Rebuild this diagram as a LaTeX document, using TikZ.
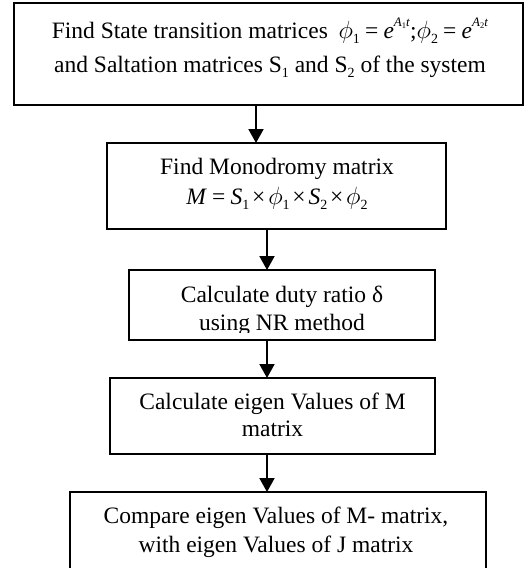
\documentclass[tikz,border=0pt]{standalone}
\usepackage{fontspec}
\setmainfont{Liberation Serif}
\usetikzlibrary{arrows.meta}
\newcommand{\mi}[1]{\textit{#1}}
\newcommand{\ph}{$\phi$}
\newcommand{\lo}[1]{\raisebox{-5pt}{\fontsize{14}{14}\selectfont #1}}
\newcommand{\hi}[1]{\raisebox{12pt}{\fontsize{13}{13}\selectfont #1}}
\newcommand{\tlo}[1]{\raisebox{-2.5pt}{\fontsize{8.5}{8.5}\selectfont #1}}
\newcommand{\eq}{\hspace{0.22em}=\hspace{0.22em}}
\newcommand{\tm}{\hspace{0.12em}×\hspace{0.12em}}
\begin{document}
\begin{tikzpicture}[x=1pt,y=1pt,
  box/.style={draw, line width=2pt, inner sep=0pt, outer sep=0pt},
  txt/.style={font=\fontsize{23.5}{28}\selectfont, align=center, inner sep=0pt},
  arr/.style={line width=2pt, -{Triangle[width=15pt,length=14pt]}}]
\useasboundingbox (0,0) rectangle (525,-568);
\clip (0,0) rectangle (525,-568);
% boxes
\node[box, minimum width=509pt, minimum height=102pt] (b1) at (268.5,-54) {};
\node[box, minimum width=339pt, minimum height=86pt] (b2) at (276.5,-186) {};
\node[box, minimum width=306pt, minimum height=70pt] (b3) at (282,-305) {};
\node[box, minimum width=325pt, minimum height=76pt] (b4) at (272.5,-416) {};
\node[box, minimum width=416pt, minimum height=79pt] (b5) at (278,-531.5) {};
% texts
\node[txt] (t1) at (270,-47.5) {Find State transition matrices\hspace{0.45em}\ph\lo{1}\eq\mi{e}\hi{\mi{A}\tlo{1}\mi{t}};\ph\lo{2}\eq\mi{e}\hi{\mi{A}\tlo{2}\mi{t}}\\[6pt]
  and Saltation matrices S\lo{1} and S\lo{2} of the system};
\node[txt] (t2) at (277,-184.3) {Find Monodromy matrix\\[2pt]
  \mi{M}\eq\mi{S}\lo{1}\tm\ph\lo{1}\tm\mi{S}\lo{2}\tm\ph\lo{2}};
\begin{scope}
  \clip (129,-270) rectangle (435,-332.5);
  \node[txt] (t3) at (282,-311.3) {Calculate duty ratio δ\\using NR method};
\end{scope}
\node[txt] (t4) at (272.5,-415.3) {Calculate eigen Values of M\\[-1pt]matrix};
\node[txt] (t5) at (276,-531.8) {Compare eigen Values of M- matrix,\\[1pt]with eigen Values of J matrix};
% connectors
\coordinate (c1) at (256,0);
\coordinate (c2) at (267,0);
\draw[arr] (b1.south -| c1) -- (b2.north -| c1);
\draw[arr] (b2.south -| c2) -- (b3.north -| c2);
\draw[arr] (b3.south -| c2) -- (b4.north -| c2);
\draw[arr] (b4.south -| c2) -- (b5.north -| c2);
\end{tikzpicture}
\end{document}
